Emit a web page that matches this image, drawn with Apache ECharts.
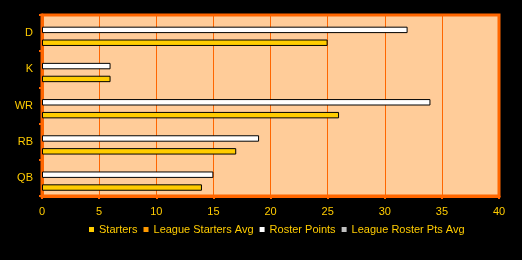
<!DOCTYPE html>
<html><head><meta charset="utf-8">
<script src="https://cdn.jsdelivr.net/npm/echarts@6/dist/echarts.min.js"></script>
<style>html,body{margin:0;padding:0;background:#000;}#c{width:522px;height:260px;}</style>
</head><body><div id="c"></div>
<script>
const categories = ['QB', 'RB', 'WR', 'K', 'D'];
const starters = [14, 17, 26, 6, 25];
const leagueStartersAvg = [];
const rosterPoints = [15, 19, 34, 6, 32];
const leagueRosterPtsAvg = [];
const xTicks = { min: 0, max: 40, interval: 5 };

const chart = echarts.init(document.getElementById('c'), null, { renderer: 'canvas' });
const txt = { color: '#FFCC00', fontFamily: 'Liberation Sans, Arial, sans-serif', fontSize: 11 };
function bar(name, data, color) {
  return {
    name, type: 'bar', data,
    barGap: '0%', barCategoryGap: '29%',
    itemStyle: { color, borderColor: '#000', borderWidth: 1 },
    animation: false
  };
}
chart.setOption({
  backgroundColor: '#000',
  animation: false,
  grid: { left: 42, right: 23, top: 15, bottom: 64, show: true, backgroundColor: '#FFCC99', borderColor: '#FF6600', borderWidth: 3 },
  legend: {
    bottom: 20, left: 84, itemWidth: 5, itemHeight: 5, itemGap: 6, icon: 'rect',
    itemStyle: { borderWidth: 0 },
    textStyle: txt,
    data: ['Starters', 'League Starters Avg', 'Roster Points', 'League Roster Pts Avg']
  },
  xAxis: {
    type: 'value', min: xTicks.min, max: xTicks.max, interval: xTicks.interval,
    axisLine: { show: true, lineStyle: { color: '#FF6600', width: 3 } },
    axisTick: { show: true, length: 3, lineStyle: { color: '#FF6600', width: 2 } },
    axisLabel: Object.assign({ margin: 10 }, txt),
    splitLine: { show: true, lineStyle: { color: '#FF6600', width: 1 } }
  },
  yAxis: {
    type: 'category', data: categories,
    axisLine: { show: true, lineStyle: { color: '#FF6600', width: 3 } },
    axisTick: { show: true, length: 3, lineStyle: { color: '#FF6600', width: 2 } },
    axisLabel: Object.assign({ margin: 9 }, txt),
    splitLine: { show: false }
  },
  series: [
    bar('League Roster Pts Avg', leagueRosterPtsAvg, '#C0C0C0'),
    bar('Roster Points', rosterPoints, '#FFFFFF'),
    bar('League Starters Avg', leagueStartersAvg, '#FF9900'),
    bar('Starters', starters, '#FFCC00')
  ]
});
</script></body></html>
